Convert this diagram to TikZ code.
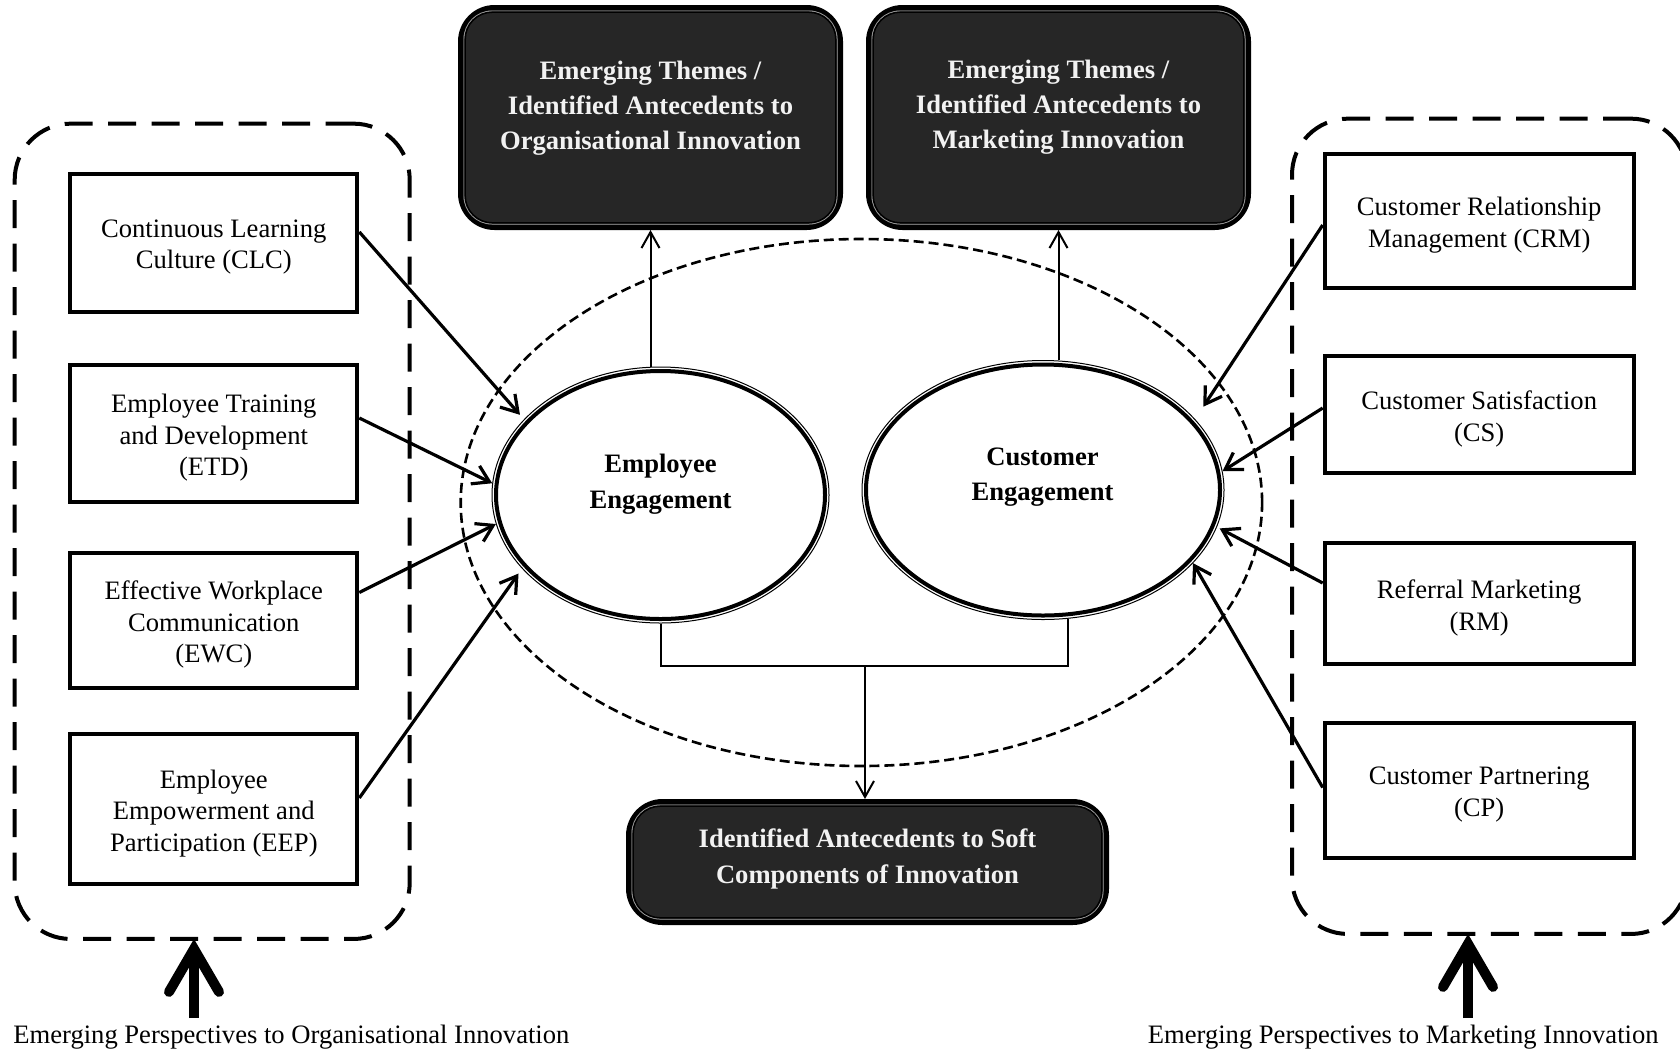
\documentclass[tikz,border=0pt]{standalone}
\usepackage{fontspec}
\setmainfont{Liberation Serif}
\usetikzlibrary{arrows.meta,shapes.geometric,calc}

\definecolor{boxfill}{HTML}{262626}
\definecolor{boxtext}{HTML}{F2F2F2}

\tikzset{
  txt/.style={font=\fontsize{13.3}{15.8}\selectfont, align=center},
  factor/.style={draw, line width=2pt, inner sep=0pt},
  lfactor/.style={factor, minimum width=143.5pt},
  rfactor/.style={factor, minimum width=154.5pt},
  group/.style={draw, line width=2pt, dash pattern=on 14pt off 7.75pt,
    rounded corners=28pt, minimum width=197.5pt, minimum height=407.65pt,
    outer sep=0pt},
  theme/.style={draw, fill=boxfill, line width=2.5pt, rounded corners=17pt},
  themetext/.style={text=boxtext, font=\bfseries\fontsize{13.3}{17.7}\selectfont,
    align=center},
  ring/.style={ellipse, draw, line width=0.5pt, inner sep=0pt},
  core/.style={font=\bfseries\fontsize{13.3}{17.7}\selectfont, align=center},
  conn/.style={line width=1.6pt,
    -{Straight Barb[length=8pt,width=10pt,line join=miter,line cap=butt]}},
  link/.style={line width=1pt},
  linkarrow/.style={link,
    -{Straight Barb[length=8pt,width=9pt,line join=miter,line cap=butt]}},
  fat/.style={line width=5pt,
    -{Straight Barb[length=21.5pt,width=25pt,line cap=round,line join=miter]}},
}

\begin{document}
\begin{tikzpicture}[x=0.5pt,y=-0.5pt]
\useasboundingbox (0,0) rectangle (1680,1051);
\clip (0,0) rectangle (1680,1051);

% dashed field holding both engagement constructs
\node[draw, ellipse, dash pattern=on 5pt off 2.5pt, line width=1.3pt,
  minimum width=400.7pt, minimum height=263.5pt, inner sep=0pt]
  (field) at (861.4,502.5) {};

% dashed groups of antecedents
\node[group] (lgrp) at (212.2,531.3) {};
\node[group] (rgrp) at (1489.5,526.3) {};

% organisational antecedents
\node[lfactor, minimum height=69pt]   (clc) at (213.8,242.9) {};
\node[lfactor, minimum height=68.5pt] (etd) at (213.8,433.5) {};
\node[lfactor, minimum height=67.5pt] (ewc) at (213.8,620.5) {};
\node[lfactor, minimum height=75pt]   (eep) at (213.8,809)   {};
\node[txt] (clct) at ([yshift=-2.1pt]clc) {Continuous Learning\\Culture (CLC)};
\node[txt] (etdt) at ([yshift=-2.1pt]etd) {Employee Training\\and Development\\(ETD)};
\node[txt] (ewct) at ([yshift=-2.1pt]ewc) {Effective Workplace\\Communication\\(EWC)};
\node[txt] (eept) at ([yshift=-2.1pt]eep) {Employee\\Empowerment and\\Participation (EEP)};

% marketing antecedents
\node[rfactor, minimum height=67pt]   (crm) at (1479.2,221)   {};
\node[rfactor, minimum height=58.5pt] (cs)  at (1479.2,414.5) {};
\node[rfactor, minimum height=60.5pt] (rm)  at (1479.2,603.5) {};
\node[rfactor, minimum height=67.5pt] (cp)  at (1479.2,790.5) {};
\node[txt] (crmt) at ([yshift=-2.1pt]crm) {Customer Relationship\\Management (CRM)};
\node[txt] (cst)  at ([yshift=-2.1pt]cs)  {Customer Satisfaction\\(CS)};
\node[txt] (rmt)  at ([yshift=-2.1pt]rm)  {Referral Marketing\\(RM)};
\node[txt] (cpt)  at ([yshift=-2.1pt]cp)  {Customer Partnering\\(CP)};

% outcome boxes
\node[theme, minimum width=190pt, minimum height=110pt]  (o1) at (650.5,117.5) {};
\node[theme, minimum width=190pt, minimum height=110pt]  (o2) at (1058.5,117.5) {};
\node[theme, minimum width=239pt, minimum height=60.5pt] (o3) at (867.5,862) {};
\foreach \b in {o1,o2,o3}{
  \draw[white!60!black, line width=0.5pt, rounded corners=14pt]
    ([shift={(3pt,-3pt)}]\b.north west) rectangle ([shift={(-3pt,3pt)}]\b.south east);
  \draw[black, line width=0.75pt, rounded corners=13.5pt]
    ([shift={(3.6pt,-3.6pt)}]\b.north west) rectangle ([shift={(-3.6pt,3.6pt)}]\b.south east);
}
\node[themetext] (o1t) at (650.5,108.2)  {Emerging Themes /\\Identified Antecedents to\\Organisational Innovation};
\node[themetext] (o2t) at (1058.5,107.2) {Emerging Themes /\\Identified Antecedents to\\Marketing Innovation};
\node[themetext] (o3t) at (867.5,859)    {Identified Antecedents to Soft\\Components of Innovation};

% engagement constructs: thin outer ring plus heavy inner outline
\node[ring, minimum width=168.5pt, minimum height=128pt]  (ee) at (660.5,495) {};
\node[ring, minimum width=181pt,   minimum height=129.5pt] (ce) at (1043,490) {};
\draw[line width=2pt] (ee.center) ellipse [x radius=82.25pt, y radius=62pt];
\draw[line width=2pt] (ce.center) ellipse [x radius=88.5pt, y radius=62.75pt];
\node[core] (eet) at (660.5,484)  {Employee\\Engagement};
\node[core] (cet) at (1042.5,477) {Customer\\Engagement};

% antecedents feeding the constructs
\draw[conn, shorten >=3pt] ([yshift=5.5pt]clc.east)  -- (ee.151);
\draw[conn]                ([yshift=7.75pt]etd.east) -- (ee.176);
\draw[conn]                ([yshift=14pt]ewc.east)   -- (ee.190);
\draw[conn, shorten >=3pt] ([yshift=5.5pt]eep.east)  -- (ee.208);
\draw[conn, shorten >=7.4pt] ([yshift=-2pt]crm.west) -- (ce.25);
\draw[conn]                ([yshift=3.25pt]cs.west)  -- (ce.6);
\draw[conn, shorten >=1.5pt] ([yshift=10.25pt]rm.west) -- (ce.348);
\draw[conn]                ([yshift=1.5pt]cp.west)   -- (ce.334);

% constructs to outcomes
\draw[linkarrow] (o1.south |- ee.north) -- (o1.south);
\draw[linkarrow] (o2.south |- ce.north) -- (o2.south);
\coordinate (fork) at (865,666);
\draw[link] (ee.south) |- (fork) -| (ce.-79);
\draw[linkarrow] (fork) -- (o3.north -| fork);

% perspectives
\coordinate (lfoot) at (194,1018);
\coordinate (rfoot) at (1468,1018);
\draw[fat] (lfoot) -- (lgrp.south -| lfoot);
\draw[fat] (rfoot) -- (rgrp.south -| rfoot);
\node[txt, anchor=base west, inner sep=0pt] (lcap) at (13,1043)   {Emerging Perspectives to Organisational Innovation};
\node[txt, anchor=base east, inner sep=0pt] (rcap) at (1659,1043) {Emerging Perspectives to Marketing Innovation};
\end{tikzpicture}
\end{document}
